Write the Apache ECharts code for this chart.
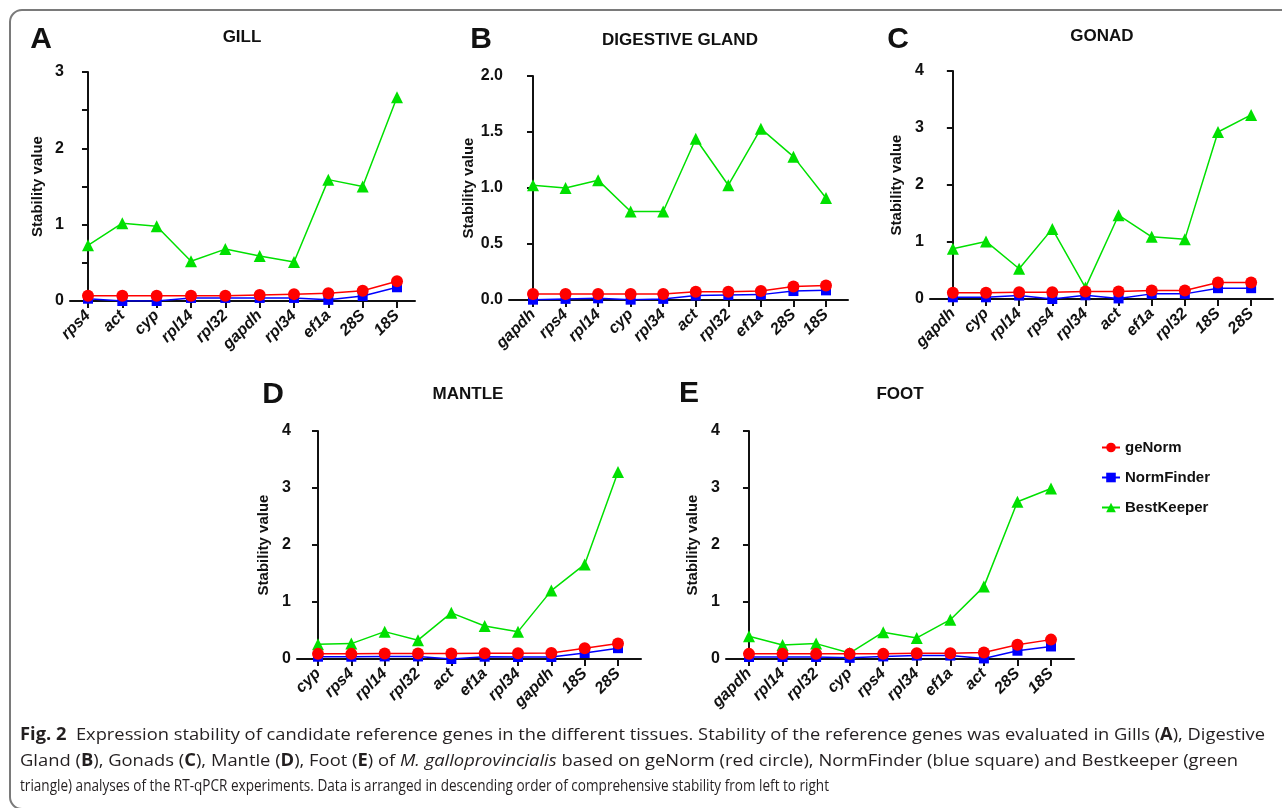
<!DOCTYPE html>
<html>
<head>
<meta charset="utf-8">
<script src="https://cdn.jsdelivr.net/npm/echarts@6/dist/echarts.min.js"></script>
<style>
html,body{margin:0;padding:0;background:#fff;}
#chart{width:1282px;height:808px;}
</style>
</head>
<body>
<div id="chart"></div>
<script>
// ---------- DATA ----------
const seriesNames = ['geNorm', 'NormFinder', 'BestKeeper'];

const genesA = ['rps4','act','cyp','rpl14','rpl32','gapdh','rpl34','ef1a','28S','18S'];
const geNormA = [0.07,0.07,0.07,0.07,0.07,0.08,0.09,0.10,0.135,0.26];
const normFinderA = [0.03,0.0,0.0,0.04,0.04,0.04,0.04,0.015,0.065,0.18];
const bestKeeperA = [0.73,1.02,0.98,0.52,0.68,0.59,0.51,1.59,1.50,2.67];

const genesB = ['gapdh','rps4','rpl14','cyp','rpl34','act','rpl32','ef1a','28S','18S'];
const geNormB = [0.053,0.053,0.053,0.053,0.053,0.074,0.074,0.08,0.12,0.13];
const normFinderB = [0.003,0.01,0.015,0.003,0.01,0.04,0.045,0.048,0.08,0.086];
const bestKeeperB = [1.025,1.00,1.07,0.79,0.79,1.44,1.025,1.53,1.28,0.91];

const genesC = ['gapdh','cyp','rpl14','rps4','rpl34','act','ef1a','rpl32','18S','28S'];
const geNormC = [0.11,0.11,0.12,0.12,0.13,0.13,0.15,0.15,0.29,0.29];
const normFinderC = [0.03,0.03,0.06,0.0,0.065,0.01,0.09,0.09,0.19,0.19];
const bestKeeperC = [0.88,1.01,0.53,1.23,0.2,1.47,1.09,1.05,2.93,3.23];

const genesD = ['cyp','rps4','rpl14','rpl32','act','ef1a','rpl34','gapdh','18S','28S'];
const geNormD = [0.09,0.09,0.095,0.095,0.095,0.10,0.10,0.105,0.19,0.27];
const normFinderD = [0.04,0.04,0.045,0.045,0.0,0.04,0.035,0.035,0.105,0.19];
const bestKeeperD = [0.26,0.27,0.48,0.33,0.81,0.58,0.48,1.20,1.66,3.28];

const genesE = ['gapdh','rpl14','rpl32','cyp','rps4','rpl34','ef1a','act','28S','18S'];
const geNormE = [0.09,0.09,0.09,0.09,0.09,0.10,0.10,0.115,0.25,0.34];
const normFinderE = [0.035,0.035,0.035,0.02,0.045,0.06,0.06,0.01,0.145,0.22];
const bestKeeperE = [0.40,0.245,0.27,0.105,0.47,0.37,0.69,1.27,2.76,2.99];

const panelLetters = ['A','B','C','D','E'];
const panelTitles = ['GILL','DIGESTIVE GLAND','GONAD','MANTLE','FOOT'];
const yAxisName = 'Stability value';

const captionLines = [
  [['Fig. 2','b'],['  Expression stability of candidate reference genes in the different tissues. Stability of the reference genes was evaluated in Gills (','n'],['A','b'],['), Digestive','n']],
  [['Gland (','n'],['B','b'],['), Gonads (','n'],['C','b'],['), Mantle (','n'],['D','b'],['), Foot (','n'],['E','b'],[') of ','n'],['M. galloprovincialis','i'],[' based on geNorm (red circle), NormFinder (blue square) and Bestkeeper (green','n']],
  [['triangle) analyses of the RT-qPCR experiments. Data is arranged in descending order of comprehensive stability from left to right','n']]
];

// ---------- LAYOUT ----------
const panels = [
  {genes:genesA, vals:[geNormA,normFinderA,bestKeeperA], x0:70,  x1:415,  top:72,  bottom:301, xmin:-0.524, xmax:9.524, ymax:3, yint:0.5, yfmt:v=>(Math.abs(v-Math.round(v))<1e-6?String(Math.round(v)):''), nameGap:25,
   letter:[41,40], title:[242,37]},
  {genes:genesB, vals:[geNormB,normFinderB,bestKeeperB], x0:509, x1:848,  top:76,  bottom:300, xmin:-0.737, xmax:9.676, ymax:2, yint:0.5, yfmt:v=>v.toFixed(1), nameGap:33,
   letter:[481,40], title:[680,40]},
  {genes:genesC, vals:[geNormC,normFinderC,bestKeeperC], x0:930, x1:1273, top:71,  bottom:299, xmin:-0.69, xmax:9.66, ymax:4, yint:1, yfmt:v=>String(v), nameGap:26,
   letter:[898,40], title:[1102,36]},
  {genes:genesD, vals:[geNormD,normFinderD,bestKeeperD], x0:297, x1:641,  top:431, bottom:659, xmin:-0.63, xmax:9.69, ymax:4, yint:1, yfmt:v=>String(v), nameGap:26,
   letter:[273,395], title:[468,394]},
  {genes:genesE, vals:[geNormE,normFinderE,bestKeeperE], x0:726, x1:1074, top:431, bottom:659, xmin:-0.685, xmax:9.685, ymax:4, yint:1, yfmt:v=>String(v), nameGap:26,
   letter:[689,394], title:[900,394]}
];

const colors = ['#ff0000', '#0000ff', '#00e000'];
const symbols = ['circle', 'rect', 'triangle'];
const symbolSizes = [12, 10, 12];
const FONT = 'Liberation Sans, Arial, sans-serif';
const AXIS_COLOR = '#111';

const grid = [], xAxis = [], yAxis = [], series = [], graphic = [];

panels.forEach((p, k) => {
  grid.push({left:p.x0, top:p.top, width:p.x1-p.x0, height:p.bottom-p.top, outerBoundsMode:'none', containLabel:false});
  const idx = p.genes.map((g,i)=>i);
  xAxis.push({
    type:'value', gridIndex:k, min:p.xmin, max:p.xmax,
    splitLine:{show:false},
    axisLine:{show:true, onZero:false, lineStyle:{color:AXIS_COLOR, width:2}},
    axisTick:{show:true, customValues:idx, length:7, lineStyle:{color:AXIS_COLOR, width:2}},
    axisLabel:{customValues:idx, formatter:(v)=>p.genes[Math.round(v)], rotate:45, margin:12,
      fontFamily:FONT, fontSize:16, fontWeight:'bold', fontStyle:'italic', color:'#111'}
  });
  yAxis.push({
    type:'value', gridIndex:k, min:0, max:p.ymax, interval:p.yint,
    splitLine:{show:false},
    axisLine:{show:true, lineStyle:{color:AXIS_COLOR, width:2}},
    axisTick:{show:true, length:6, lineStyle:{color:AXIS_COLOR, width:2}},
    axisLabel:{formatter:p.yfmt, margin:6, fontFamily:FONT, fontSize:16, fontWeight:'bold', color:'#111'},
    name:yAxisName, nameLocation:'middle', nameGap:p.nameGap, nameRotate:90,
    nameTextStyle:{fontFamily:FONT, fontSize:15, fontWeight:'bold', color:'#111'}
  });
  // green first, then blue, then red on top
  [2,1,0].forEach(s => {
    series.push({
      name:seriesNames[s], type:'line', xAxisIndex:k, yAxisIndex:k,
      data:p.vals[s].map((v,i)=>[i,v]),
      symbol:symbols[s], symbolSize:symbolSizes[s], showSymbol:true,
      lineStyle:{color:colors[s], width:1.5},
      itemStyle:{color:colors[s]},
      z:2+(2-s), animation:false, silent:true
    });
  });
  graphic.push({type:'text', x:p.letter[0], y:p.letter[1],
    style:{text:panelLetters[k], fontFamily:FONT, fontSize:30, fontWeight:'bold', fill:'#111', align:'center', verticalAlign:'middle'}});
  graphic.push({type:'text', x:p.title[0], y:p.title[1],
    style:{text:panelTitles[k], fontFamily:FONT, fontSize:17, fontWeight:'bold', fill:'#111', align:'center', verticalAlign:'middle'}});
});

// Border
graphic.push({type:'rect', shape:{x:10, y:10, width:1300, height:799, r:12},
  style:{fill:'none', stroke:'#7a7a7a', lineWidth:2}, z:-1});

// Caption
const CAP_FONT = 'Open Sans';
const CAP_SIZE = 17;
const capStyles = {
  n:{fontFamily:CAP_FONT, fontSize:CAP_SIZE, fontWeight:'normal', fontStyle:'normal', fill:'#231f20'},
  b:{fontFamily:CAP_FONT, fontSize:CAP_SIZE, fontWeight:'bold', fontStyle:'normal', fill:'#231f20'},
  i:{fontFamily:CAP_FONT, fontSize:CAP_SIZE, fontWeight:'normal', fontStyle:'italic', fill:'#231f20'}
};
const mctx = document.createElement('canvas').getContext('2d');
function segWidth(t, k){
  const s = capStyles[k];
  mctx.font = s.fontStyle + ' ' + s.fontWeight + ' ' + s.fontSize + 'px "' + CAP_FONT + '"';
  return mctx.measureText(t).width;
}
const capTargets = [[20,735,1245],[20,761,1218],[20,786,809]];
captionLines.forEach((line, li) => {
  const w = line.reduce((a,seg)=>a+segWidth(seg[0],seg[1]),0);
  const sx = capTargets[li][2] / w;
  graphic.push({type:'text', x:capTargets[li][0], y:capTargets[li][1], scaleX:sx, scaleY:1,
    style:{text:line.map(seg=>'{'+seg[1]+'|'+seg[0]+'}').join(''), rich:capStyles,
      fontFamily:CAP_FONT, fontSize:CAP_SIZE, verticalAlign:'middle', align:'left'}});
});

const chart = echarts.init(document.getElementById('chart'), null, {renderer:'canvas'});
chart.setOption({
  backgroundColor:'#ffffff',
  animation:false,
  grid, xAxis, yAxis, series, graphic,
  legend:{
    data:seriesNames, orient:'vertical', left:1096, top:435,
    itemWidth:18, itemHeight:12, itemGap:15,
    textStyle:{fontFamily:FONT, fontSize:15, fontWeight:'bold', color:'#111'},
    selectedMode:false
  }
});
</script>
</body>
</html>
